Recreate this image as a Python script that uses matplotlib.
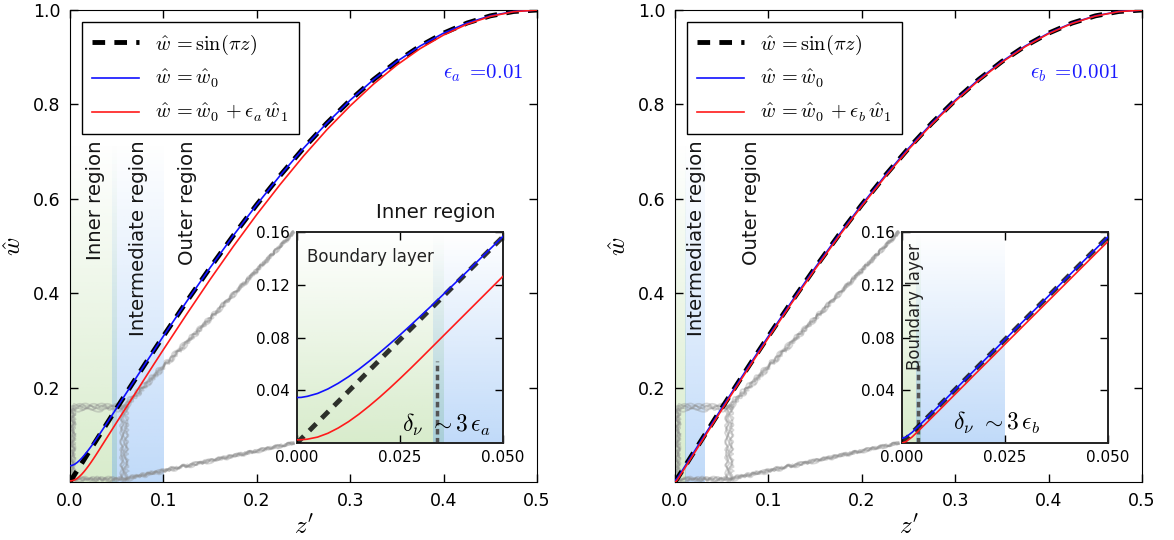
import numpy as np
import matplotlib
matplotlib.use('Agg')
import matplotlib.pyplot as plt
from matplotlib.patches import Rectangle, ConnectionPatch
from matplotlib.colors import to_rgb

plt.rcParams['mathtext.fontset'] = 'cm'
plt.rcParams['font.family'] = ['DejaVu Sans']

# ---------------- data ----------------
z = [0.0, 0.001, 0.0025, 0.005, 0.0075, 0.01, 0.0125, 0.015, 0.0175, 0.02, 0.0225,
     0.025, 0.0275, 0.03, 0.0325, 0.035, 0.0375, 0.04, 0.0425, 0.045, 0.0475, 0.05,
     0.06, 0.07, 0.08, 0.09, 0.10,
     0.125, 0.15, 0.175, 0.2, 0.225, 0.25, 0.275, 0.3, 0.325, 0.35, 0.375, 0.4,
     0.425, 0.45, 0.475, 0.5]

w_sin = [0.0, 0.00314, 0.00785, 0.01571, 0.02356, 0.03141, 0.03926, 0.04711, 0.05495,
         0.06279, 0.07063, 0.07846, 0.08629, 0.09411, 0.10192, 0.10973, 0.11754,
         0.12533, 0.13312, 0.14090, 0.14867, 0.15643,
         0.18738, 0.21814, 0.24869, 0.27899, 0.30902,
         0.38268, 0.45399, 0.52250, 0.58779, 0.64945, 0.70711, 0.76041, 0.80902,
         0.85264, 0.89101, 0.92388, 0.95106, 0.97237, 0.98769, 0.99692, 1.0]

# panel a (eps = 0.01)
w0_a = [0.0345, 0.0346, 0.0354, 0.0376, 0.0410, 0.0453, 0.0503, 0.0559, 0.0620, 0.0684,
        0.0751, 0.0820, 0.0891, 0.0964, 0.1037, 0.1112, 0.1187, 0.1262, 0.1338, 0.1415,
        0.1491, 0.1568,
        0.1875, 0.2182, 0.2487, 0.2790, 0.3090,
        0.38268, 0.45399, 0.52250, 0.58779, 0.64945, 0.70711, 0.76041, 0.80902,
        0.85264, 0.89101, 0.92388, 0.95106, 0.97237, 0.98769, 0.99692, 1.0]
w01_a = [0.0024, 0.0025, 0.0029, 0.0045, 0.0074, 0.0114, 0.0162, 0.0218, 0.0280, 0.0346,
         0.0416, 0.0489, 0.0564, 0.0641, 0.0719, 0.0797, 0.0875, 0.0953, 0.1031, 0.1109,
         0.1187, 0.1265,
         0.1574, 0.1881, 0.2192, 0.2500, 0.2805,
         0.3557, 0.4290, 0.4995, 0.5668, 0.6304, 0.6906, 0.7464, 0.7970, 0.8431,
         0.8835, 0.9184, 0.9471, 0.9699, 0.9865, 0.9965, 1.0]

# panel b (eps = 0.001)
w0_b = [0.0035, 0.0046, 0.0082, 0.0158, 0.02356, 0.03141, 0.03926, 0.04711, 0.05495,
        0.06279, 0.07063, 0.07846, 0.08629, 0.09411, 0.10192, 0.10973, 0.11754,
        0.12533, 0.13312, 0.14090, 0.14867, 0.15643,
        0.18738, 0.21814, 0.24869, 0.27899, 0.30902,
        0.38268, 0.45399, 0.52250, 0.58779, 0.64945, 0.70711, 0.76041, 0.80902,
        0.85264, 0.89101, 0.92388, 0.95106, 0.97237, 0.98769, 0.99692, 1.0]
w01_b = [0.0000, 0.0011, 0.0047, 0.0123, 0.0201, 0.0279, 0.0358, 0.0436, 0.0515, 0.0593,
         0.0671, 0.0750, 0.0828, 0.0906, 0.0984, 0.1062, 0.1140, 0.1218, 0.1296, 0.1374,
         0.1452, 0.1529,
         0.1840, 0.2147, 0.2453, 0.2756, 0.3057,
         0.3795, 0.4509, 0.5195, 0.5850, 0.6467, 0.7046, 0.7581, 0.8069, 0.8508,
         0.8894, 0.9226, 0.9500, 0.9716, 0.9872, 0.9966, 1.0]

main_xticks = [0.0, 0.1, 0.2, 0.3, 0.4, 0.5]
main_yticks = [0.2, 0.4, 0.6, 0.8, 1.0]
inset_xticks = [0.0, 0.025, 0.05]
inset_yticks = [0.04, 0.08, 0.12, 0.16]

eps_names = ['a', 'b']
eps_values = ['0.01', '0.001']

# region extents (z) per panel
main_green = [(0.0, 0.05), (0.0, 0.011)]
main_blue = [(0.045, 0.10), (0.0105, 0.031)]
inset_green = [(0.0, 0.0355), (0.0, 0.0045)]
inset_blue = [(0.0331, 0.06), (0.0035, 0.025)]
bl_edge = [0.0339, 0.0040]

GREEN = '#98cc78'
BLUE = '#5a9ef0'
GRAY = '#8c8c8c'


def gradient_band(ax, x0, x1, y0, y1, color, amax):
    rgb = to_rgb(color)
    n = 256
    arr = np.zeros((n, 1, 4))
    arr[..., 0], arr[..., 1], arr[..., 2] = rgb
    arr[:, 0, 3] = np.linspace(0.0, amax, n)
    ax.imshow(arr, extent=(x0, x1, y0, y1), aspect='auto', origin='upper',
              interpolation='bilinear', zorder=0)


fig = plt.figure(figsize=(11.74, 5.4), dpi=100)

main_pos = [[0.0596, 0.1074, 0.3978, 0.874], [0.575, 0.1074, 0.3978, 0.874]]
ins_pos = [[0.2530, 0.1796, 0.1755, 0.3907], [0.7683, 0.1796, 0.1755, 0.3907]]
w0_list = [w0_a, w0_b]
w01_list = [w01_a, w01_b]

region_labels = [
    [('Inner region', 0.0278), ('Intermediate region', 0.0739), ('Outer region', 0.1263)],
    [('Intermediate region', 0.0225), ('Outer region', 0.0814)],
]
eps_text_x = [0.399, 0.380]

# hand-drawn look for the zoom marks: (dz, dw, sketch scale, sketch length)
strokes = [(0.000, 0.000, 1.2, 10), (0.002, 0.003, 1.5, 14), (-0.0015, -0.002, 1.0, 8),
           (0.001, -0.004, 1.8, 18), (-0.001, 0.004, 1.2, 12), (0.003, 0.001, 1.5, 6)]

for p in range(2):
    ax = fig.add_axes(main_pos[p])
    e = eps_names[p]
    gradient_band(ax, *main_green[p], 0.0, 0.72, GREEN, 0.38)
    gradient_band(ax, *main_blue[p], 0.0, 0.72, BLUE, 0.38)

    ax.plot(z, w_sin, color='black', lw=3.5, dashes=(2.6, 1.9), zorder=3,
            label=r'$\hat{w}\,=\sin(\pi z)$')
    ax.plot(z, w0_list[p], color='#1010ff', lw=1.2, zorder=4,
            label=r'$\hat{w}\,=\hat{w}_0$')
    ax.plot(z, w01_list[p], color='#ff1a1a', lw=1.2, zorder=5,
            label=r'$\hat{w}\,=\hat{w}_0\,+\epsilon_%s\,\hat{w}_1$' % e)

    ax.set_xlim(0, 0.5)
    ax.set_ylim(0, 1.0)
    ax.set_xticks(main_xticks)
    ax.set_xticklabels(['%.1f' % t for t in main_xticks])
    ax.set_yticks(main_yticks)
    ax.set_yticklabels(['%.1f' % t for t in main_yticks])
    ax.tick_params(direction='in', top=True, right=True, length=6, width=1,
                   labelsize=12.5, pad=7)
    ax.set_xlabel(r"$z'$", fontsize=18, labelpad=4)
    ax.set_ylabel(r'$\hat{w}$', fontsize=18, labelpad=5)

    leg = ax.legend(loc='upper left', fontsize=14.6, frameon=True, fancybox=False,
                    framealpha=1, edgecolor='black', handlelength=2.3,
                    borderaxespad=0.6, labelspacing=0.58, handletextpad=0.8,
                    borderpad=0.5)
    leg.get_frame().set_linewidth(1.0)

    ax.text(eps_text_x[p], 0.866, r'$\epsilon_%s\;=\!0.%s$' % (e, eps_values[p][2:]),
            color='#1a1aff', fontsize=15, ha='left', va='center')

    for lab, xz in region_labels[p]:
        ax.text(xz, 0.7246, lab, rotation=90, ha='center', va='top',
                fontsize=14.2, color='#151515')

    if p == 0:
        ax.text(0.392, 0.572, 'Inner region', ha='center', va='center',
                fontsize=14.2, color='#151515')

    # inset
    axi = fig.add_axes(ins_pos[p])
    gradient_band(axi, *inset_green[p], 0.0, 0.16, GREEN, 0.38)
    gradient_band(axi, *inset_blue[p], 0.0, 0.16, BLUE, 0.38)
    axi.plot(z, w_sin, color='black', lw=3.5, dashes=(2.0, 1.6), alpha=0.8, zorder=3)
    axi.plot(z, w0_list[p], color='#1010ff', lw=1.2, zorder=4)
    axi.plot(z, w01_list[p], color='#ff1a1a', lw=1.2, zorder=5)
    axi.plot([bl_edge[p], bl_edge[p]], [0.0, 0.062], color='#555555', lw=2.5,
             dashes=(1.6, 1.0), zorder=2)
    axi.set_xlim(0, 0.05)
    axi.set_ylim(0, 0.16)
    axi.set_xticks(inset_xticks)
    axi.set_xticklabels(['%.3f' % t for t in inset_xticks])
    axi.set_yticks(inset_yticks)
    axi.set_yticklabels(['%.2f' % t for t in inset_yticks])
    axi.tick_params(direction='in', top=True, right=True, length=6, width=1,
                    labelsize=11, pad=5)
    for s in axi.spines.values():
        s.set_linewidth(1.4)
        s.set_color('#222222')

    if p == 0:
        axi.text(0.0024, 0.141, 'Boundary layer', ha='left', va='center',
                 fontsize=12, color='#222222')
        axi.text(0.0255, 0.0085, r'$\delta_\nu\ \sim 3\,\epsilon_a$', ha='left',
                 va='baseline', fontsize=17)
    else:
        axi.text(0.0032, 0.1517, 'Boundary layer', ha='center', va='top',
                 rotation=90, fontsize=12, color='#222222')
        axi.text(0.0124, 0.0099, r'$\delta_\nu\ \sim 3\,\epsilon_b$', ha='left',
                 va='baseline', fontsize=17)

    # sketchy zoom box and connectors
    bx0, by0, bw, bh = 0.003, 0.006, 0.054, 0.152
    for (dz, dw, sc, ln) in strokes:
        r = Rectangle((bx0 + dz * 0.5, by0 + dw * 0.5), bw + dz, bh + dw, fill=False,
                      edgecolor=GRAY, lw=1.3, alpha=0.35, zorder=1)
        r.set_sketch_params(sc, ln, 2)
        ax.add_patch(r)
        for (ya, yb) in [(by0 + bh + dw, 1.0), (by0 + dw * 0.5, 0.0)]:
            cp = ConnectionPatch(xyA=(bx0 + bw + dz, ya), coordsA=ax.transData,
                                 xyB=(-0.015, yb + dw * 0.3), coordsB=axi.transAxes,
                                 color=GRAY, lw=1.3, alpha=0.35, zorder=1)
            cp.set_sketch_params(sc, ln, 2)
            ax.add_artist(cp)

fig.savefig('out.png', dpi=100)
